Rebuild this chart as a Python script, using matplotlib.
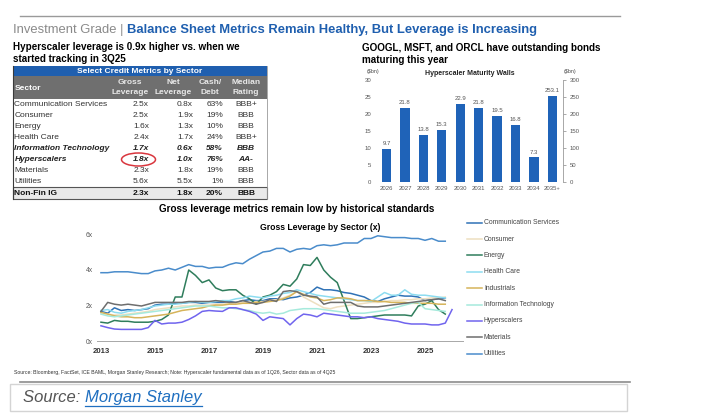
import numpy as np
import pandas as pd
import matplotlib
matplotlib.use('Agg')
import matplotlib.pyplot as plt
from matplotlib.patches import Rectangle, Ellipse

plt.rcParams['font.family'] = ['Liberation Sans', 'DejaVu Sans']

W, H = 706, 419

# ---------------- data ----------------
# table
tbl_sectors = ['Communication Services', 'Consumer', 'Energy', 'Health Care',
               'Information Technology', 'Hyperscalers', 'Materials', 'Utilities', 'Non-Fin IG']
tbl_gross = ['2.5x', '2.5x', '1.6x', '2.4x', '1.7x', '1.8x', '2.3x', '5.6x', '2.3x']
tbl_net = ['0.8x', '1.9x', '1.3x', '1.7x', '0.6x', '1.0x', '1.8x', '5.5x', '1.8x']
tbl_cash = ['63%', '19%', '10%', '24%', '58%', '76%', '19%', '1%', '20%']
tbl_rating = ['BBB+', 'BBB', 'BBB', 'BBB+', 'BBB', 'AA-', 'BBB', 'BBB', 'BBB']

# maturity walls ($bn)
mat_years = ['2026', '2027', '2028', '2029', '2030', '2031', '2032', '2033', '2034', '2035+']
mat_values = [9.7, 21.8, 13.8, 15.3, 22.9, 21.8, 19.5, 16.8, 7.3]
mat_last = 253.1  # right axis

# gross leverage by sector, quarterly 1Q13 - 4Q25
comm_services = [1.7, 1.6, 1.9, 1.75, 1.8, 1.75, 1.8, 1.85, 2.05, 2.1, 2.1, 2.15,
                 2.15, 2.2, 2.2, 2.15, 2.2, 2.2, 2.2, 2.25, 2.2, 2.3, 2.35, 2.3,
                 2.3, 2.4, 2.4, 2.35, 2.45, 2.5, 2.6, 2.75, 3.05, 2.9, 2.9, 2.85,
                 2.75, 2.7, 2.6, 2.5, 2.3, 2.25, 2.4, 2.5, 2.6, 2.55, 2.55, 2.5,
                 2.3, 2.35, 2.4, 2.45]
consumer = [1.6, 1.55, 1.5, 1.5, 1.55, 1.6, 1.65, 1.7, 1.8, 1.85, 1.9, 1.95,
            2.0, 2.0, 2.05, 2.05, 2.05, 2.1, 2.1, 2.15, 2.2, 2.2, 2.2, 2.25,
            2.25, 2.3, 2.35, 2.45, 2.6, 2.8, 2.5, 2.3, 2.1, 1.9, 1.85, 1.95,
            2.0, 2.05, 2.1, 2.15, 2.2, 2.2, 2.25, 2.3, 2.3, 2.35, 2.35, 2.4,
            2.4, 2.45, 2.45, 2.5]
energy = [1.1, 1.05, 1.2, 1.15, 1.15, 1.1, 1.1, 1.1, 1.15, 1.25, 1.5, 2.5,
          2.5, 4.0, 3.7, 3.3, 3.45, 3.0, 2.85, 2.9, 2.9, 2.6, 2.4, 2.1,
          2.5, 2.6, 2.8, 3.2, 3.1, 3.5, 4.3, 4.25, 4.7, 4.0, 3.6, 3.3,
          2.3, 1.3, 1.3, 1.35, 1.4, 1.45, 1.5, 1.5, 1.5, 1.5, 1.45, 2.0,
          2.1, 2.3, 1.8, 1.55]
health_care = [1.75, 1.8, 1.65, 1.6, 1.7, 1.75, 1.8, 1.9, 2.0, 2.05, 2.1, 2.1,
               2.15, 2.2, 2.25, 2.2, 2.2, 2.25, 2.3, 2.3, 2.4, 2.45, 2.55, 2.5,
               2.45, 2.55, 2.6, 2.7, 2.75, 2.9, 2.8, 2.7, 2.6, 2.55, 2.5, 2.45,
               2.4, 2.35, 2.3, 2.3, 2.25, 2.5, 2.75, 2.6, 2.6, 2.9, 2.65, 2.6,
               2.6, 2.55, 2.5, 2.45]
industrials = [1.65, 1.55, 1.45, 1.4, 1.4, 1.35, 1.35, 1.4, 1.45, 1.5, 1.55, 1.65,
               1.75, 1.8, 1.85, 1.9, 2.0, 2.05, 2.05, 2.1, 2.1, 2.15, 2.15, 2.2,
               2.2, 2.25, 2.3, 2.4, 2.55, 2.8, 2.65, 2.5, 2.45, 2.3, 2.35, 2.45,
               2.45, 2.4, 2.3, 2.3, 2.3, 2.25, 2.25, 2.2, 2.2, 2.2, 2.15, 2.15,
               2.15, 2.15, 2.1, 2.1]
info_tech = [1.55, 1.45, 1.4, 1.45, 1.5, 1.55, 1.6, 1.65, 1.7, 1.75, 1.8, 1.85,
             1.9, 1.95, 2.0, 2.0, 2.0, 1.95, 1.9, 1.9, 1.85, 1.8, 1.75, 1.65,
             1.6, 1.65, 1.55, 1.6, 1.75, 1.8, 1.85, 1.85, 1.85, 1.8, 1.75, 1.7,
             1.65, 1.6, 1.6, 1.6, 1.65, 1.7, 1.75, 1.85, 1.95, 2.05, 2.15, 2.2,
             1.85, 1.8, 1.75, 1.7]
hyperscalers = [0.9, 0.8, 0.72, 0.7, 0.7, 0.7, 0.7, 0.8, 1.2, 1.0, 1.05, 1.05,
                1.1, 1.25, 1.45, 1.7, 1.75, 1.72, 1.7, 1.9, 1.9, 1.8, 1.7, 1.55,
                1.2, 1.4, 1.35, 1.3, 0.95, 1.3, 1.55, 1.5, 1.4, 1.6, 1.55, 1.5,
                1.45, 1.4, 1.4, 1.35, 1.4, 1.3, 1.25, 1.2, 1.15, 1.05, 1.0, 1.0,
                1.0, 0.95, 0.95, 1.05, 1.8]  # through 1Q26
materials = [1.7, 2.2, 2.1, 2.05, 2.1, 2.05, 2.0, 2.1, 2.2, 2.2, 2.2, 2.2,
             2.2, 2.25, 2.25, 2.25, 2.25, 2.3, 2.25, 2.2, 2.2, 2.3, 2.2, 2.1,
             2.2, 2.35, 2.25, 2.8, 2.85, 2.8, 2.6, 2.55, 2.5, 2.1, 2.2, 2.2,
             2.2, 2.2, 2.0, 1.95, 1.95, 1.95, 2.0, 2.05, 2.1, 2.15, 2.2, 2.25,
             2.3, 2.35, 2.4, 2.3]
utilities = [3.85, 3.85, 3.9, 3.9, 3.9, 3.85, 3.8, 3.8, 3.95, 4.0, 4.1, 4.0,
             4.15, 4.3, 4.2, 4.2, 4.1, 4.15, 4.15, 4.3, 4.4, 4.35, 4.6, 4.8,
             5.0, 5.05, 5.2, 5.2, 5.0, 5.15, 5.2, 5.15, 5.35, 5.4, 5.35, 5.4,
             5.5, 5.5, 5.5, 5.75, 5.75, 5.9, 5.85, 5.8, 5.8, 5.8, 5.75, 5.75,
             5.65, 5.75, 5.6, 5.6]

series_names = ['Communication Services', 'Consumer', 'Energy', 'Health Care', 'Industrials',
                'Information Technology', 'Hyperscalers', 'Materials', 'Utilities']
series_data = [comm_services, consumer, energy, health_care, industrials,
               info_tech, hyperscalers, materials, utilities]
series_colors = ['#2f72b6', '#eedfc0', '#2f7d5c', '#8ddcf0', '#d6b45a',
                 '#a6eadc', '#7064ee', '#6e6e6e', '#4a8ccb']

x_years = [2013, 2015, 2017, 2019, 2021, 2023, 2025]


def qdates(n):
    q = pd.period_range('2013Q1', periods=n, freq='Q')
    return q.year + (q.quarter - 1) / 4.0


def px_axes(x0, y0, x1, y1):
    return fig.add_axes([x0 / W, 1 - y1 / H, (x1 - x0) / W, (y1 - y0) / H])


fig = plt.figure(figsize=(W / 100, H / 100), dpi=100)
fig.patch.set_facecolor('white')

# base layer in pixel coords
base = fig.add_axes([0, 0, 1, 1])
base.set_xlim(0, W)
base.set_ylim(H, 0)
base.axis('off')

base.plot([20, 620], [16, 16], color='#9a9a9a', lw=1.0)
t1 = base.text(13, 30, 'Investment Grade | ', fontsize=9.4, color='#8a8a8a', va='center')
fig.canvas.draw()
bb = t1.get_window_extent()
base.text(13 + bb.width, 30, 'Balance Sheet Metrics Remain Healthy, But Leverage is Increasing',
          fontsize=9.4, color='#1f5faf', fontweight='bold', va='center')

base.text(13, 47, 'Hyperscaler leverage is 0.9x higher vs. when we', fontsize=7.1,
          fontweight='bold', va='center')
base.text(13, 59, 'started tracking in 3Q25', fontsize=7.1, fontweight='bold', va='center')
base.text(362, 48, 'GOOGL, MSFT, and ORCL have outstanding bonds', fontsize=7.1,
          fontweight='bold', va='center')
base.text(362, 60, 'maturing this year', fontsize=7.1, fontweight='bold', va='center')

# ---------------- table ----------------
tx0, tx1 = 12.7, 266.7
base.add_patch(Rectangle((tx0, 66), tx1 - tx0, 10.5, color='#1f5faf', lw=0))
base.text((tx0 + tx1) / 2, 71.3, 'Select Credit Metrics by Sector', fontsize=6, color='white',
          fontweight='bold', ha='center', va='center')
base.add_patch(Rectangle((tx0, 76.5), tx1 - tx0, 22.5, color='#6f6f6f', lw=0))
base.text(14.5, 88, 'Sector', fontsize=6, color='white', fontweight='bold', va='center')
hdr_cols = [(130, 'Gross', 'Leverage'), (173, 'Net', 'Leverage'),
            (210, 'Cash/', 'Debt'), (246, 'Median', 'Rating')]
for cx, l1, l2 in hdr_cols:
    base.text(cx, 82, l1, fontsize=6, color='#e8e8e8', fontweight='bold', ha='center', va='center')
    base.text(cx, 93, l2, fontsize=6, color='#e8e8e8', fontweight='bold', ha='center', va='center')

row_y = [104, 115, 126, 137.2, 148.4, 159.5, 170.7, 181.8]
for i, sec in enumerate(tbl_sectors[:-1]):
    y = row_y[i]
    emph = sec in ('Information Technology', 'Hyperscalers')
    kw = dict(fontsize=6, va='center', color='#222222' if emph else '#333333',
              fontweight='bold' if emph else 'normal', fontstyle='italic' if emph else 'normal')
    base.text(14.5, y, sec, **kw)
    base.text(149, y, tbl_gross[i], ha='right', **kw)
    base.text(193, y, tbl_net[i], ha='right', **kw)
    base.text(223, y, tbl_cash[i], ha='right', **kw)
    base.text(246, y, tbl_rating[i], ha='center', **kw)

base.add_patch(Rectangle((tx0, 187.5), tx1 - tx0, 11.5, fc='#e9e9e9', ec='#555555', lw=0.8))
kw = dict(fontsize=6, va='center', fontweight='bold', color='#111111')
base.text(14.5, 193.3, tbl_sectors[-1], **kw)
base.text(149, 193.3, tbl_gross[-1], ha='right', **kw)
base.text(193, 193.3, tbl_net[-1], ha='right', **kw)
base.text(223, 193.3, tbl_cash[-1], ha='right', **kw)
base.text(246, 193.3, tbl_rating[-1], ha='center', **kw)
base.plot([tx0, tx0], [66, 199], color='#3a3a3a', lw=0.8)
base.plot([tx1, tx1], [66, 199], color='#9a9a9a', lw=0.6)

base.add_patch(Ellipse((138.5, 159.5), 34, 13, fill=False, ec='#d9363e', lw=1.1))

# ---------------- maturity walls ----------------
axb = px_axes(375.5, 80, 563, 182.3)
xb = np.arange(len(mat_years))
bars = axb.bar(xb[:-1], mat_values, width=0.5, color='#1f63b8')
axb.bar_label(bars, fmt='%.1f', fontsize=4.3, color='#555555', padding=2)
axb.set_xlim(-0.6, len(mat_years) - 0.42)
axb.set_ylim(0, 30)
axb.set_yticks(range(0, 31, 5))
axb.set_xticks(xb)
axb.set_xticklabels(mat_years)
axb.tick_params(axis='both', length=0, labelsize=4.3, labelcolor='#555555', pad=3)
for s in axb.spines.values():
    s.set_visible(False)

axr = axb.twinx()
bar_r = axr.bar([xb[-1]], [mat_last], width=0.5, color='#1f63b8')
axr.bar_label(bar_r, fmt='%.1f', fontsize=4.3, color='#555555', padding=2)
axr.set_ylim(0, 300)
axr.set_yticks(range(0, 301, 50))
axr.tick_params(axis='y', length=2, width=0.5, color='#888888', labelsize=4.3,
                labelcolor='#555555', pad=3)
for k, s in axr.spines.items():
    s.set_visible(k == 'right')
axr.spines['right'].set_color('#9a9a9a')
axr.spines['right'].set_linewidth(0.6)

base.text(372.5, 71.5, '($bn)', fontsize=3.8, color='#444444', ha='center', va='center')
base.text(570, 71.5, '($bn)', fontsize=3.8, color='#444444', ha='center', va='center')
base.text(470, 73.5, 'Hyperscaler Maturity Walls', fontsize=5, fontweight='bold',
          ha='center', va='center', color='#222222')

# ---------------- gross leverage chart ----------------
base.text(297, 209, 'Gross leverage metrics remain low by historical standards',
          fontsize=7.1, fontweight='bold', ha='center', va='center')
base.text(320, 227.5, 'Gross Leverage by Sector (x)', fontsize=6.2, fontweight='bold',
          ha='center', va='center', family=['Liberation Sans Narrow', 'Liberation Sans'])

axl = px_axes(97, 226.8, 464, 342)
for name, vals, col in zip(series_names, series_data, series_colors):
    axl.plot(qdates(len(vals)), vals, color=col, lw=1.1, label=name)
axl.axhline(0, color='#9a9a9a', lw=1.2)
axl.set_xlim(2013 - 4 / 27.3, 2013 + 367 / 27.3)
axl.set_ylim(0, 6.4)
axl.set_yticks([0, 2, 4, 6])
axl.set_yticklabels(['0x', '2x', '4x', '6x'])
axl.set_xticks(x_years)
axl.set_xticklabels([str(y) for y in x_years], fontweight='bold')
axl.tick_params(axis='y', length=0, labelsize=4.8, labelcolor='#555555', pad=3)
axl.tick_params(axis='x', length=0, labelsize=5.6, labelcolor='#333333', pad=4)
for s in axl.spines.values():
    s.set_visible(False)
axl.patch.set_alpha(0)

# legend (manual, to match layout)
leg_y0, leg_dy = 222.7, 16.38
for i, (name, col) in enumerate(zip(series_names, series_colors)):
    y = leg_y0 + i * leg_dy
    base.plot([467, 482], [y, y], color=col, lw=1.1)
    base.text(484, y, name, fontsize=4.9, color='#444444', va='center',
              family=['Liberation Sans Narrow', 'Liberation Sans'])

# ---------------- footer ----------------
base.text(13.5, 372, 'Source: Bloomberg, FactSet, ICE BAML, Morgan Stanley Research; Note: '
          'Hyperscaler fundamental data as of 1Q26, Sector data as of 4Q25',
          fontsize=3.7, color='#333333', va='center')
base.plot([20, 630], [381.5, 381.5], color='#8c8c8c', lw=1.2)
base.add_patch(Rectangle((10, 383.5), 617, 27, fill=False, ec='#d4d4d4', lw=1.0))
ts = base.text(23, 397.5, 'Source: ', fontsize=12, fontstyle='italic', color='#555555', va='center')
fig.canvas.draw()
bb = ts.get_window_extent()
tm = base.text(23 + bb.width, 397.5, 'Morgan Stanley', fontsize=12, fontstyle='italic',
               color='#1f6fc0', va='center')
fig.canvas.draw()
bm = tm.get_window_extent()
base.plot([23 + bb.width, 23 + bb.width + bm.width], [405.5, 405.5], color='#1f6fc0', lw=0.9)

fig.savefig('out.png', dpi=100)
